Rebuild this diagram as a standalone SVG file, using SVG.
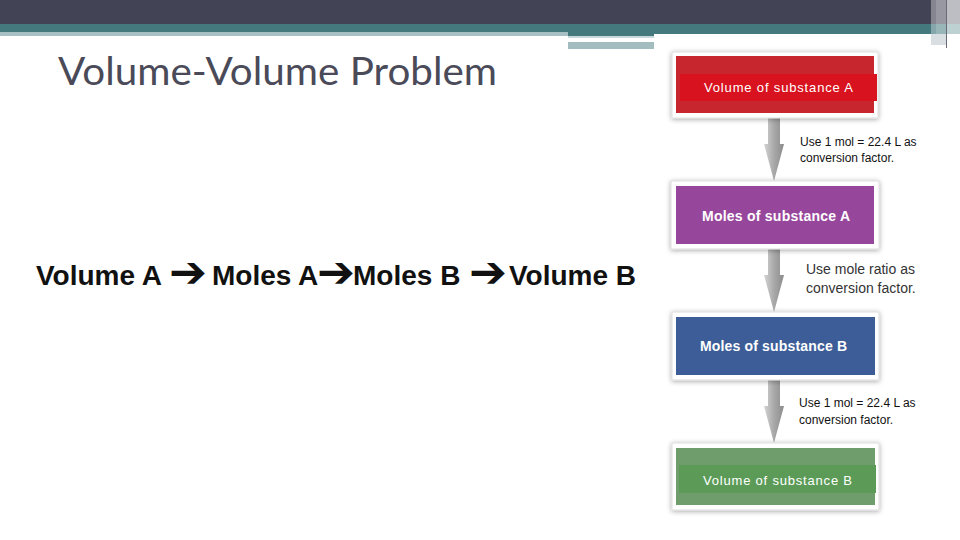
<svg xmlns="http://www.w3.org/2000/svg" width="960" height="540" viewBox="0 0 960 540">
<style>
.lbl{font-family:"Liberation Sans",Arial,sans-serif;font-size:12px;fill:#111}
.lbl2{font-family:"Liberation Sans",Arial,sans-serif;font-size:14px;fill:#333}
.bt{font-family:"Liberation Sans",Arial,sans-serif;font-size:13px;fill:#fff;text-anchor:start}
.bb{font-family:"Liberation Sans",Arial,sans-serif;font-size:14px;font-weight:bold;fill:#fff}
.main{font-family:"Liberation Sans",Arial,sans-serif;font-size:28px;font-weight:bold;fill:#111}
.arr{font-family:"DejaVu Sans",sans-serif;font-size:44px;font-weight:bold;fill:#111}
.frame{fill:#fff;stroke:#ddd;stroke-width:1;filter:url(#sh)}
</style>
<defs>
<filter id="sh" x="-10%" y="-20%" width="120%" height="140%">
<feDropShadow dx="0" dy="1" stdDeviation="2.5" flood-color="#000" flood-opacity="0.35"/>
</filter>
<linearGradient id="ag" x1="0" x2="1" y1="0" y2="0">
<stop offset="0" stop-color="#d4d4d4"/>
<stop offset="0.5" stop-color="#a8a8a8"/>
<stop offset="1" stop-color="#8c8c8c"/>
</linearGradient>
<path id="arrow" d="M-6,0 H6 V26 H10 L0,63 L-10,26 H-6 Z" fill="url(#ag)"/>
</defs>
<rect width="960" height="540" fill="#fff"/>
<!-- header bands -->
<rect x="0" y="0" width="960" height="24" fill="#424456"/>
<rect x="0" y="24" width="960" height="10" fill="#44797e"/>
<rect x="0" y="32" width="568" height="4" fill="#a6c0c3"/>
<rect x="568" y="34" width="86" height="2" fill="#44797e"/>
<rect x="568" y="36" width="86" height="2" fill="#c9d8da"/>
<rect x="568" y="42" width="86" height="7" fill="#a3bcbf"/>
<rect x="931" y="0" width="5" height="45" fill="#fff" opacity="0.35"/>
<rect x="936" y="0" width="10" height="45" fill="#fff" opacity="0.45"/>
<rect x="946" y="0" width="1" height="48" fill="#6a6a78"/>
<rect x="947" y="0" width="13" height="34" fill="#fff" opacity="0.65"/>
<rect x="931" y="34" width="15" height="11" fill="#c8d0d4" opacity="0.7"/>
<!-- title -->
<text x="58" y="85" font-family="Lato,'Open Sans',sans-serif" font-size="38" fill="#4a4a58" textLength="439" lengthAdjust="spacingAndGlyphs">Volume-Volume Problem</text>
<!-- main equation -->
<g id="equation">
<text class="main" x="36" y="285">Volume A</text>
<text class="arr" x="169" y="287" textLength="38" lengthAdjust="spacingAndGlyphs">➔</text>
<text class="main" x="212" y="285">Moles A</text>
<text class="arr" x="317" y="287" textLength="38" lengthAdjust="spacingAndGlyphs">➔</text>
<text class="main" x="353" y="285">Moles B</text>
<text class="arr" x="469" y="287" textLength="38" lengthAdjust="spacingAndGlyphs">➔</text>
<text class="main" x="509" y="285">Volume B</text>
</g>
<!-- connectors -->
<g id="connectors">
<use href="#arrow" x="774" y="118"/>
<use href="#arrow" x="774" y="249"/>
<use href="#arrow" x="774" y="380"/>
<text class="lbl" x="800" y="146">Use 1 mol = 22.4 L as</text>
<text class="lbl" x="800" y="162">conversion factor.</text>
<text class="lbl2" x="806" y="274">Use mole ratio as</text>
<text class="lbl2" x="806" y="293">conversion factor.</text>
<text class="lbl" x="799" y="407">Use 1 mol = 22.4 L as</text>
<text class="lbl" x="799" y="424">conversion factor.</text>
</g>
<g id="volA">
<rect class="frame" x="672" y="52" width="206" height="66"/>
<rect x="676" y="56" width="198" height="57" fill="#c8262e"/>
<rect x="680" y="74" width="197" height="27" fill="#d8121e"/>
<text class="bt" x="704" y="92" textLength="149" lengthAdjust="spacing">Volume of substance A</text>
</g>
<g id="molA">
<rect class="frame" x="671" y="181" width="208" height="68"/>
<rect x="676" y="186" width="198" height="58" fill="#97479b"/>
<text class="bb" x="702" y="221" textLength="148" lengthAdjust="spacing">Moles of substance A</text>
</g>
<g id="molB">
<rect class="frame" x="672" y="312" width="207" height="68"/>
<rect x="676" y="317" width="199" height="58" fill="#3d5d98"/>
<text class="bb" x="700" y="351" textLength="147" lengthAdjust="spacing">Moles of substance B</text>
</g>
<g id="volB">
<rect class="frame" x="672" y="443" width="207" height="67"/>
<rect x="676" y="448" width="199" height="57" fill="#6f9d6c"/>
<rect x="679" y="465" width="197" height="28" fill="#5b9b57"/>
<text class="bt" x="703" y="485" textLength="149" lengthAdjust="spacing">Volume of substance B</text>
</g>
</svg>
